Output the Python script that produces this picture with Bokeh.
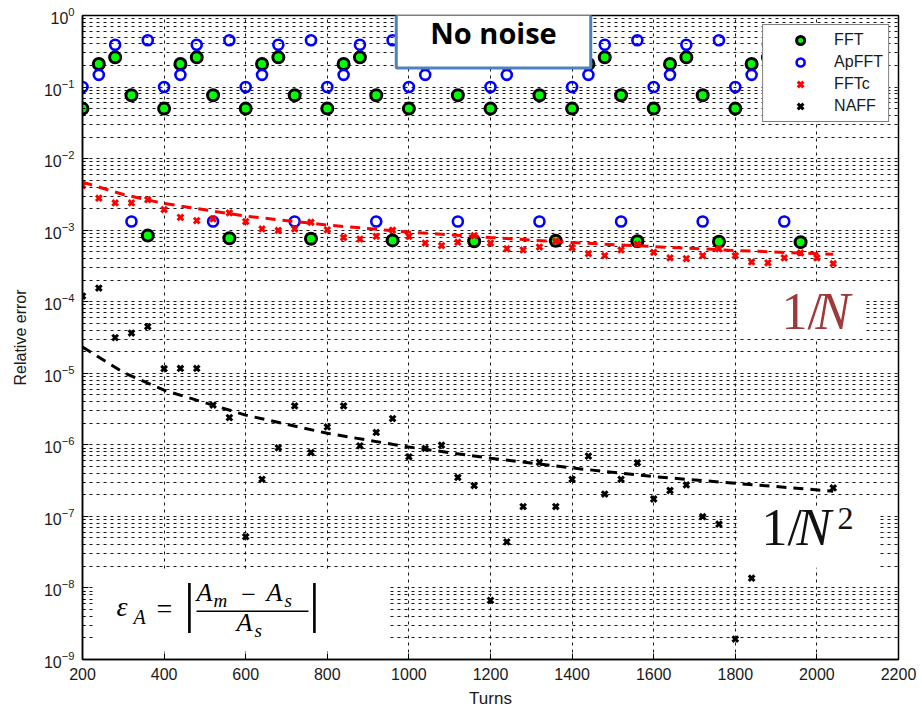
from bokeh.plotting import figure
from bokeh.models import (Legend, LegendItem, Label, BoxAnnotation, FixedTicker, Range1d)
from bokeh.embed import file_html
from bokeh.resources import INLINE

nan = float("nan")

# ---------------- data ----------------
turns = [200, 240, 280, 320, 360, 400, 440, 480, 520, 560,
         600, 640, 680, 720, 760, 800, 840, 880, 920, 960,
         1000, 1040, 1080, 1120, 1160, 1200, 1240, 1280, 1320, 1360,
         1400, 1440, 1480, 1520, 1560, 1600, 1640, 1680, 1720, 1760,
         1800, 1840, 1880, 1920, 1960, 2000, 2040]

fft = [0.05, 0.21, 0.26, 0.077, 8.4e-4, 0.05, 0.21, 0.26, 0.077, 7.7e-4,
       0.05, 0.21, 0.26, 0.077, 7.6e-4, 0.05, 0.21, 0.26, 0.077, 7.2e-4,
       0.05, 0.21, 0.26, 0.077, 7.0e-4, 0.05, 0.21, 0.26, 0.077, 7.1e-4,
       0.05, 0.21, 0.26, 0.077, 7.0e-4, 0.05, 0.21, 0.26, 0.077, 6.9e-4,
       0.05, 0.21, 0.26, 0.077, 6.8e-4, 0.05, 0.21]

apfft = [0.1, 0.148, 0.39, 1.32e-3, 0.45, 0.1, 0.148, 0.39, 1.32e-3, 0.45,
         0.1, 0.148, 0.39, 1.32e-3, 0.45, 0.1, 0.148, 0.39, 1.32e-3, 0.45,
         0.1, 0.148, 0.39, 1.32e-3, 0.45, 0.1, 0.148, 0.39, 1.32e-3, 0.45,
         0.1, 0.148, 0.39, 1.32e-3, 0.45, 0.1, 0.148, 0.39, 1.32e-3, 0.45,
         0.1, 0.148, 0.39, 1.32e-3, 0.45, 0.1, 0.148]

fftc = [4.2e-3, 2.8e-3, 2.4e-3, 2.4e-3, 2.67e-3, 1.94e-3, 1.51e-3, 1.36e-3, 1.44e-3, 1.74e-3,
        1.32e-3, 1.04e-3, 0.99e-3, 1.04e-3, 1.29e-3, 1.01e-3, 7.9e-4, 7.5e-4, 8.2e-4, 1.0e-3,
        8.2e-4, 6.6e-4, 6.1e-4, 6.8e-4, 8.4e-4, 6.6e-4, 5.5e-4, 5.3e-4, 5.8e-4, 7.0e-4,
        5.7e-4, 4.7e-4, 4.4e-4, 5.3e-4, 6.4e-4, 4.9e-4, 4.1e-4, 4.0e-4, 4.4e-4, 5.5e-4,
        4.4e-4, 3.6e-4, 3.5e-4, 4.1e-4, 4.8e-4, 4.1e-4, 3.4e-4]

naff = [1.2e-4, 1.55e-4, 3.15e-5, 3.65e-5, 4.5e-5, 1.16e-5, 1.17e-5, 1.17e-5, 3.6e-6, 2.4e-6,
        5.2e-8, 3.3e-7, 9.1e-7, 3.5e-6, 7.8e-7, 1.78e-6, 3.5e-6, 9.7e-7, 1.49e-6, 2.33e-6,
        6.8e-7, 8.9e-7, 9.9e-7, 3.5e-7, 2.7e-7, 6.7e-9, 4.4e-8, 1.37e-7, 5.7e-7, 1.37e-7,
        3.3e-7, 6.95e-7, 2.05e-7, 3.3e-7, 5.6e-7, 1.75e-7, 2.3e-7, 2.75e-7, 9.9e-8, 7.8e-8,
        1.93e-9, 1.37e-8, nan, nan, nan, nan, 2.5e-7]

# trend lines (1/N and 1/N^2 guides)
trend_x = [200, 300, 400, 600, 800, 1000, 1200, 1400, 1600, 1800, 2040]
trend_1_over_n = [4.7e-3, 3.15e-3, 2.36e-3, 1.57e-3, 1.18e-3, 9.4e-4, 7.9e-4, 6.7e-4, 5.9e-4, 5.2e-4, 4.6e-4]
trend_1_over_n2 = [2.33e-5, 1.03e-5, 5.8e-6, 2.6e-6, 1.45e-6, 9.3e-7, 6.5e-7, 4.75e-7, 3.6e-7, 2.9e-7, 2.25e-7]

x_ticks = [200, 400, 600, 800, 1000, 1200, 1400, 1600, 1800, 2000, 2200]
y_ticks = [1e-9, 1e-8, 1e-7, 1e-6, 1e-5, 1e-4, 1e-3, 1e-2, 1e-1, 1e0]
y_minor = [m * d for d in y_ticks[:-1] for m in (2, 3, 4, 5, 6, 7, 8, 9)]

# ---------------- figure ----------------
X0, X1 = 200, 2200
Y0, Y1 = 1e-9, 1e0
FL, FR, FT, FB = 82, 898, 15, 660   # frame edges on the canvas

p = figure(width=922, height=710, y_axis_type="log",
           x_range=Range1d(X0, X1), y_range=Range1d(Y0, Y1),
           output_backend="svg", toolbar_location=None,
           min_border_left=FL, min_border_right=922 - FR,
           min_border_top=FT, min_border_bottom=710 - FB)
p.background_fill_color = "white"
p.border_fill_color = "white"
p.outline_line_color = "black"
p.outline_line_width = 1.5

FONT = "Liberation Sans"

xa = p.xaxis[0]
ya = p.yaxis[0]
xa.ticker = FixedTicker(ticks=x_ticks)
ya.ticker = FixedTicker(ticks=y_ticks, minor_ticks=y_minor)
for ax in (xa, ya):
    ax.axis_line_color = "black"
    ax.axis_line_width = 1.5
    ax.major_tick_in = 6
    ax.major_tick_out = 0
    ax.minor_tick_in = 3
    ax.minor_tick_out = 0
    ax.major_tick_line_color = "black"
    ax.minor_tick_line_color = "black"
    ax.major_label_text_font = FONT
    ax.major_label_text_color = "#1a1a1a"
    ax.major_label_text_font_size = "16px"
    ax.major_label_standoff = 8
    ax.axis_label_text_font = FONT
    ax.axis_label_text_font_style = "normal"
    ax.axis_label_text_font_size = "16px"
    ax.axis_label_text_color = "#1a1a1a"
xa.minor_tick_in = 0
xa.axis_label = "Turns"
xa.axis_label_text_font_size = "17px"
ya.axis_label = "Relative error"
xa.axis_label_standoff = 6
ya.axis_label_standoff = 12

for g in (p.xgrid[0], p.ygrid[0]):
    g.grid_line_color = "black"
    g.grid_line_dash = "3 4"
    g.grid_line_width = 1
    g.grid_line_alpha = 0.9
p.ygrid[0].minor_grid_line_color = "black"
p.ygrid[0].minor_grid_line_dash = "3 4"
p.ygrid[0].minor_grid_line_alpha = 0.9

# helpers: canvas pixel -> data coordinate (for annotation placement only)
def dx(px):
    return X0 + (px - FL) * (X1 - X0) / (FR - FL)

def dy(py):
    return 10 ** (-(py - FT) * 9 / (FB - FT))

# white patches behind the text annotations (cover the grid)
for (l, r, t, b) in [(93, 387, 572, 652), (737, 863, 285, 338), (737, 878, 507, 568)]:
    p.add_layout(BoxAnnotation(left=dx(l), right=dx(r), top=dy(t), bottom=dy(b),
                               fill_color="white", fill_alpha=1, line_color=None,
                               level="underlay"))

# ---------------- data marks ----------------
r_fft = p.scatter(turns, fft, marker="circle", size=11, fill_color="#00ff00",
                  line_color="black", line_width=3)
r_ap = p.scatter(turns, apfft, marker="circle", size=10, fill_color=None,
                 line_color="#0000ff", line_width=2.6)
r_fftc = p.scatter(turns, fftc, marker="x", size=8, line_color="#ff0000", line_width=3)
r_naff = p.scatter(turns, naff, marker="x", size=8, line_color="black", line_width=3)
p.line(trend_x, trend_1_over_n, line_color="#ff0000", line_width=3, line_dash="10 7")
p.line(trend_x, trend_1_over_n2, line_color="black", line_width=3, line_dash="10 7")

legend = Legend(items=[LegendItem(label="FFT", renderers=[r_fft]),
                       LegendItem(label="ApFFT", renderers=[r_ap]),
                       LegendItem(label="FFTc", renderers=[r_fftc]),
                       LegendItem(label="NAFF", renderers=[r_naff])],
                location="top_right",
                border_line_color="black", border_line_width=1.5,
                background_fill_color="white", background_fill_alpha=1,
                label_text_font=FONT, label_text_font_size="16px",
                label_text_color="#1a1a1a",
                padding=5, spacing=2, margin=9,
                glyph_width=64, glyph_height=20, label_height=20,
                label_standoff=2)
p.add_layout(legend)

# ---------------- text annotations ----------------
K = 0.38  # baseline correction (fraction of font size)

def lab(text, px, py, size, color="black", style="normal", font="Liberation Serif",
        align="left"):
    p.add_layout(Label(x=dx(px), y=dy(py - K * size), text=text, text_font=font,
                       text_font_size=f"{size}px", text_font_style=style,
                       text_color=color, text_align=align, text_baseline="alphabetic"))

# 1/N
lab("1/", 781, 331, 52, color="#9e3a3a")
lab("N", 815, 331, 52, color="#9e3a3a", style="italic")
# 1/N^2
lab("1/", 761, 548, 52, color="#111111")
lab("N", 796, 548, 52, color="#111111", style="italic")
lab("2", 837, 531, 32, color="#111111")

# epsilon_A = | (A_m - A_s) / A_s |
lab("\u03b5", 116, 618, 28, style="italic")
lab("A", 133, 625, 20, style="italic")
lab("=", 164, 620, 28, align="center")
lab("|", 189, 624, 54, align="center")
lab("|", 314, 624, 54, align="center")
lab("A", 196, 603, 26, style="italic")
lab("m", 213, 608, 19, style="italic")
lab("\u2212", 248, 605, 26, align="center")
lab("A", 266, 603, 26, style="italic")
lab("s", 284, 608, 19, style="italic")
p.add_layout(BoxAnnotation(left=dx(196), right=dx(308), top=dy(611), bottom=dy(612.5),
                           fill_color="black", fill_alpha=1, line_color=None))
lab("A", 236, 633, 26, style="italic")
lab("s", 254, 638, 19, style="italic")

# "No noise" box
p.add_layout(Label(x=dx(493), y=dy(32), text="No noise", text_align="center",
                   text_baseline="middle", text_font="Open Sans",
                   text_font_style="bold", text_font_size="29px", text_color="black",
                   background_fill_color="white", background_fill_alpha=1,
                   border_line_color="#4f81bd", border_line_width=3,
                   padding=(34, 16)))

open("out.html", "w").write(file_html(p, INLINE))
